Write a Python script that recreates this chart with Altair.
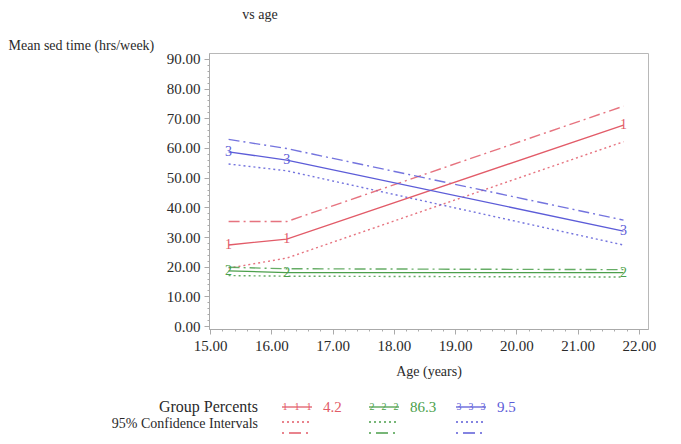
import altair as alt
import pandas as pd

# ---- data ----
ages = [15.3, 16.25, 21.75]
groups = ["1", "2", "3"]
group_pcts = ["4.2", "86.3", "9.5"]
colors = ["#e25b68", "#4b9f4b", "#5c5cd8"]

mean_1 = [27.3, 29.3, 67.7]
mean_2 = [18.6, 18.0, 18.0]
mean_3 = [58.7, 55.9, 32.0]

lower_1 = [19.5, 22.9, 62.1]
lower_2 = [17.0, 16.8, 16.5]
lower_3 = [54.6, 52.3, 27.3]

upper_1 = [35.2, 35.2, 74.1]
upper_2 = [19.8, 19.3, 19.0]
upper_3 = [62.9, 59.8, 35.7]

y_ticks = list(range(0, 92, 2))
x_ticks = [15.0, 15.2, 15.4, 15.6, 15.8, 16.0, 16.2, 16.4, 16.6, 16.8,
           17.0, 17.2, 17.4, 17.6, 17.8, 18.0, 18.2, 18.4, 18.6, 18.8,
           19.0, 19.2, 19.4, 19.6, 19.8, 20.0, 20.2, 20.4, 20.6, 20.8,
           21.0, 21.2, 21.4, 21.6, 21.8, 22.0]

title_text = "vs age"
y_title = "Mean sed time (hrs/week)"
x_title = "Age (years)"
legend_row1 = "Group Percents"
legend_row2 = "95% Confidence Intervals"

FONT = "Liberation Serif"
TXT = "#2a2a2a"

means = [mean_1, mean_2, mean_3]
lowers = [lower_1, lower_2, lower_3]
uppers = [upper_1, upper_2, upper_3]

rows = []
for g, m, lo, up in zip(groups, means, lowers, uppers):
    for a, vm, vl, vu in zip(ages, m, lo, up):
        rows.append({"group": g, "age": a, "kind": "mean", "value": vm})
        rows.append({"group": g, "age": a, "kind": "lower", "value": vl})
        rows.append({"group": g, "age": a, "kind": "upper", "value": vu})
df = pd.DataFrame(rows)

xscale = alt.Scale(domain=[14.98, 22.15], nice=False, zero=False)
yscale = alt.Scale(domain=[-1.0, 92.0], nice=False, zero=False)
cscale = alt.Scale(domain=groups, range=colors)

xaxis = alt.Axis(
    values=x_ticks,
    labelExpr="abs(datum.value - round(datum.value)) < 0.001 ? format(datum.value, '.2f') : ''",
    labelOverlap=False,
    tickSize={"condition": {"test": "abs(datum.value - round(datum.value)) < 0.001", "value": 5}, "value": 2},
    grid=False,
    title=x_title,
    titlePadding=11,
)
yaxis = alt.Axis(
    values=y_ticks,
    labelExpr="datum.value % 10 === 0 ? format(datum.value, '.2f') : ''",
    labelOverlap=False,
    tickSize={"condition": {"test": "datum.value % 10 === 0", "value": 5}, "value": 2},
    grid=False,
    title=y_title,
    titleAngle=0,
    titleAlign="left",
    titleBaseline="middle",
    titleX=-201,
    titleY=-8,
)

base = alt.Chart(df).encode(
    x=alt.X("age:Q", scale=xscale, axis=xaxis),
    y=alt.Y("value:Q", scale=yscale, axis=yaxis),
    color=alt.Color("group:N", scale=cscale, legend=None),
    detail="group:N",
)

mean_line = base.transform_filter("datum.kind === 'mean'").mark_line(strokeWidth=1.3)
lower_line = base.transform_filter("datum.kind === 'lower'").mark_line(
    strokeWidth=1.4, strokeDash=[2, 3], opacity=0.85)
upper_line = base.transform_filter("datum.kind === 'upper'").mark_line(
    strokeWidth=1.4, strokeDash=[11, 4, 2, 4], opacity=0.85)
markers = base.transform_filter("datum.kind === 'mean'").mark_text(
    font=FONT, fontSize=14, baseline="middle", align="center").encode(text="group:N")

data_layers = alt.layer(lower_line, upper_line, mean_line, markers)

# ---- custom legend (pixel positions relative to plot origin) ----
leg_rows = []
for i, (g, p, c) in enumerate(zip(groups, group_pcts, colors)):
    x0 = 73 + i * 87
    for r, dash in enumerate(["solid", "dot", "dashdot"]):
        leg_rows.append({"g": g, "pct": p, "col": c, "x0": x0, "x1": x0 + 30,
                         "y": [354, 369, 380][r], "style": dash, "tx": x0 + 41})
leg = pd.DataFrame(leg_rows)

lx = alt.X("x0:Q", scale=None, axis=None)
lx2 = alt.X2("x1:Q")
ly = alt.Y("y:Q", scale=None, axis=None)
lcol = alt.Color("col:N", scale=None, legend=None)

leg_base = alt.Chart(leg)
leg_solid = leg_base.transform_filter("datum.style === 'solid'").mark_rule(strokeWidth=1.3).encode(
    x=lx, x2=lx2, y=ly, color=lcol)
leg_dot = leg_base.transform_filter("datum.style === 'dot'").mark_rule(strokeWidth=1.3, strokeDash=[2, 3]).encode(
    x=lx, x2=lx2, y=ly, color=lcol)
leg_dd = leg_base.transform_filter("datum.style === 'dashdot'").mark_rule(strokeWidth=1.5, strokeDash=[2, 5, 12, 5]).encode(
    x=lx, x2=lx2, y=ly, color=lcol)
leg_pct = leg_base.transform_filter("datum.style === 'solid'").mark_text(
    font=FONT, fontSize=15, align="left", baseline="middle").encode(
    x=alt.X("tx:Q", scale=None, axis=None), y=ly, text="pct:N", color=lcol)
leg_tick_rows = []
for i, (g, c) in enumerate(zip(groups, colors)):
    for k in range(3):
        leg_tick_rows.append({"g": g, "col": c, "x": 73 + i * 87 + 3 + k * 12, "y": 354})
leg_ticks = alt.Chart(pd.DataFrame(leg_tick_rows)).mark_text(
    font=FONT, fontSize=10, baseline="middle", align="center").encode(
    x=alt.X("x:Q", scale=None, axis=None), y=alt.Y("y:Q", scale=None, axis=None),
    text="g:N", color=lcol)

labels = pd.DataFrame({"t": [legend_row1, legend_row2], "size": [16, 14], "y": [354, 371]})
leg_labels = alt.Chart(labels).mark_text(
    font=FONT, align="right", baseline="middle", color=TXT).encode(
    x=alt.value(49), y=alt.Y("y:Q", scale=None, axis=None),
    text="t:N", size=alt.Size("size:Q", scale=None, legend=None))

title_mark = alt.Chart(pd.DataFrame({"t": [title_text]})).mark_text(
    font=FONT, fontSize=14, align="center", baseline="middle", color=TXT).encode(
    x=alt.value(51), y=alt.value(-38), text="t:N")

legend_layers = alt.layer(leg_dot, leg_dd, leg_solid, leg_ticks, leg_pct, leg_labels, title_mark)

chart = alt.layer(data_layers, legend_layers).resolve_scale(
    x="independent", y="independent", color="independent", size="independent"
).properties(
    width=439, height=276,
    autosize=alt.AutoSizeParams(type="none"),
    padding={"left": 201, "top": 45, "right": 20, "bottom": 105},
).configure_view(
    stroke="#b8b8b8", strokeWidth=1
).configure_axis(
    labelFont=FONT, titleFont=FONT, labelFontSize=15, titleFontSize=14,
    labelColor=TXT, titleColor=TXT, titleFontWeight="normal",
    domainColor="#aaaaaa", tickColor="#aaaaaa", labelPadding=4,
)

chart.save("out.html", embed_options={"renderer": "svg", "actions": False})
